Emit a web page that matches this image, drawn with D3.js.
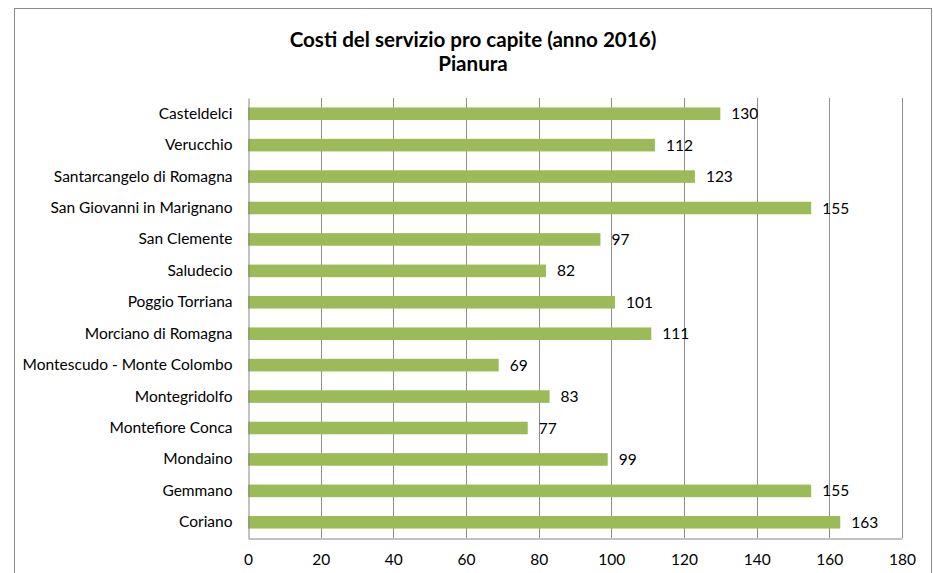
<!DOCTYPE html>
<html>
<head>
<meta charset="utf-8">
<script src="https://cdn.jsdelivr.net/npm/d3@7"></script>
<style>
  html, body { margin: 0; padding: 0; background: #fff; }
  svg { display: block; }
  text { font-family: Lato, "Open Sans", sans-serif; fill: #000; }
</style>
</head>
<body>
<svg id="chart" width="933" height="573"></svg>
<script>
// Comuni (dall'alto verso il basso) e costo pro capite in euro
const comuni = [
  "Casteldelci",
  "Verucchio",
  "Santarcangelo di Romagna",
  "San Giovanni in Marignano",
  "San Clemente",
  "Saludecio",
  "Poggio Torriana",
  "Morciano di Romagna",
  "Montescudo - Monte Colombo",
  "Montegridolfo",
  "Montefiore Conca",
  "Mondaino",
  "Gemmano",
  "Coriano"
];
const costi = [130, 112, 123, 155, 97, 82, 101, 111, 69, 83, 77, 99, 155, 163];
const tickValori = [0, 20, 40, 60, 80, 100, 120, 140, 160, 180];
const titolo = ["Costi del servizio pro capite (anno 2016)", "Pianura"];

const svg = d3.select("#chart");
const fontLabel = 15.5;

// cornice esterna del grafico
svg.append("rect")
  .attr("x", 14.5).attr("y", 8.5)
  .attr("width", 917).attr("height", 580)
  .attr("fill", "#fff")
  .attr("stroke", "#8c8c8c").attr("stroke-width", 1);

const plot = { left: 248, right: 902, top: 98, bottom: 538 };

const x = d3.scaleLinear().domain([0, 180]).range([plot.left, plot.right]);
const y = d3.scaleBand().domain(comuni).range([plot.top, plot.bottom]).paddingInner(0.6).paddingOuter(0.3);

// titolo
svg.append("g").selectAll("text").data(titolo).join("text")
  .attr("x", 473)
  .attr("y", (d, i) => 47 + i * 24)
  .attr("text-anchor", "middle")
  .attr("font-size", 20.6)
  .attr("font-weight", "bold")
  .text(d => d);

// griglia verticale
svg.append("g").selectAll("line").data(tickValori.slice(1)).join("line")
  .attr("x1", d => Math.round(x(d)) + 0.5).attr("x2", d => Math.round(x(d)) + 0.5)
  .attr("y1", plot.top).attr("y2", plot.bottom)
  .attr("stroke", "#8e8e8e").attr("stroke-width", 1);

// barre
svg.append("g").selectAll("rect").data(comuni).join("rect")
  .attr("x", x(0))
  .attr("y", d => y(d))
  .attr("width", (d, i) => x(costi[i]) - x(0))
  .attr("height", y.bandwidth())
  .attr("fill", "#9bbb59");

// etichette dei valori
svg.append("g").selectAll("text").data(comuni).join("text")
  .attr("x", (d, i) => x(costi[i]) + 11)
  .attr("y", d => y(d) + y.bandwidth() / 2)
  .attr("dy", "0.36em")
  .attr("font-size", fontLabel)
  .text((d, i) => costi[i]);

// asse delle categorie
const yAxis = svg.append("g")
  .attr("transform", `translate(${plot.left + 0.5},0)`)
  .call(d3.axisLeft(y).tickSize(0).tickPadding(16));
yAxis.select(".domain").attr("stroke", "#868686");
yAxis.selectAll("text").attr("font-size", fontLabel).attr("font-family", "Lato, 'Open Sans', sans-serif").attr("fill", "#000");

// asse dei valori
const xAxis = svg.append("g")
  .attr("transform", `translate(0,${plot.bottom + 0.5})`)
  .call(d3.axisBottom(x).tickValues(tickValori).tickSize(0).tickPadding(15).tickFormat(d3.format("d")));
xAxis.select(".domain").attr("stroke", "#868686");
xAxis.selectAll("text").attr("font-size", fontLabel).attr("font-family", "Lato, 'Open Sans', sans-serif").attr("fill", "#000");
</script>
</body>
</html>
